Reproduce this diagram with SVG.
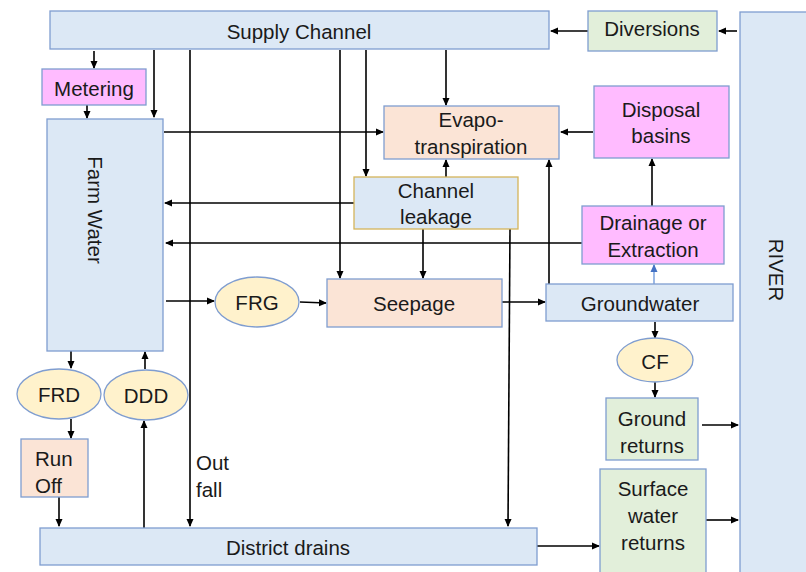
<svg xmlns="http://www.w3.org/2000/svg" width="806" height="572" viewBox="0 0 806 572">
<defs>
<marker id="ah" markerWidth="8" markerHeight="8" refX="7" refY="4" orient="auto" markerUnits="userSpaceOnUse">
<path d="M0,0.5 L8,4 L0,7.5 Z" fill="#000"/>
</marker>
<marker id="ahb" markerWidth="8" markerHeight="8" refX="7" refY="4" orient="auto" markerUnits="userSpaceOnUse">
<path d="M0,0.5 L8,4 L0,7.5 Z" fill="#4472c4"/>
</marker>
<style>
.blue{fill:#dce8f5;stroke:#7f9dd0;stroke-width:1.3}
.peach{fill:#fbe4d6;stroke:#7f9dd0;stroke-width:1.3}
.pink{fill:#ffbbff;stroke:#7f9dd0;stroke-width:1.3}
.green{fill:#e2efda;stroke:#7f9dd0;stroke-width:1.3}
.oval{fill:#fff2cc;stroke:#7f9dd0;stroke-width:1.3}
.gold{fill:#dce8f5;stroke:#d4b45a;stroke-width:1.3}
text{font-family:"Liberation Sans",Arial,sans-serif;font-size:20.5px;fill:#1a1a1a;text-anchor:middle;dominant-baseline:central}
.c line,.c path{stroke:#000;stroke-width:1.6;fill:none;marker-end:url(#ah)}
</style>
</defs>
<rect width="806" height="572" fill="#fff"/>
<g class="c" id="connectors">
<line x1="737" y1="31" x2="719" y2="31"/>
<line x1="588" y1="31" x2="551" y2="31"/>
<line x1="94" y1="51" x2="94" y2="68"/>
<line x1="87" y1="105" x2="87" y2="118"/>
<line x1="154" y1="50" x2="154" y2="117"/>
<line x1="190" y1="50" x2="190" y2="526"/>
<line x1="340" y1="50" x2="340" y2="278"/>
<line x1="366" y1="50" x2="366" y2="176"/>
<line x1="446" y1="50" x2="446" y2="105"/>
<line x1="164" y1="132" x2="383" y2="132"/>
<line x1="593" y1="132" x2="561" y2="132"/>
<line x1="446" y1="177" x2="446" y2="160"/>
<line x1="354" y1="203" x2="165" y2="203"/>
<line x1="582" y1="243" x2="166" y2="243"/>
<line x1="652" y1="206" x2="652" y2="159"/>
<line x1="549" y1="284" x2="549" y2="160"/>
<line x1="423" y1="229" x2="423" y2="278"/>
<line x1="510" y1="229" x2="508" y2="526"/>
<line x1="502" y1="302" x2="545" y2="302"/>
<line x1="166" y1="301" x2="214" y2="301"/>
<line x1="300" y1="302" x2="326" y2="303"/>
<line x1="71" y1="351" x2="71" y2="368"/>
<line x1="145" y1="369" x2="145" y2="352"/>
<line x1="71" y1="419" x2="71" y2="438"/>
<line x1="59" y1="497" x2="59" y2="526"/>
<line x1="144" y1="528" x2="144" y2="421"/>
<line x1="537" y1="546" x2="599" y2="546"/>
<line x1="655" y1="322" x2="655" y2="338"/>
<line x1="655" y1="382" x2="655" y2="397"/>
<line x1="702" y1="425" x2="738" y2="425"/>
<line x1="706" y1="520" x2="738" y2="520"/>
<line x1="654" y1="284" x2="654" y2="265" style="stroke:#5b8bd6;stroke-width:1.2;marker-end:url(#ahb)"/>
</g>
<g id="supply"><rect class="blue" x="50" y="11" width="499" height="38"/><text x="299" y="31">Supply Channel</text></g>
<g id="diversions"><rect class="green" x="588" y="11" width="129" height="40"/><text x="652" y="28">Diversions</text></g>
<g id="river"><rect class="blue" x="740" y="12" width="70" height="564"/><text transform="translate(776,270) rotate(90)">RIVER</text></g>
<g id="metering"><rect class="pink" x="42" y="69" width="104" height="36"/><text x="94" y="88">Metering</text></g>
<g id="farm"><rect class="blue" x="47" y="119" width="116" height="232"/><text transform="translate(95,210) rotate(90)">Farm Water</text></g>
<g id="evapo"><rect class="peach" x="384" y="106" width="175" height="53"/><text x="471" y="119">Evapo-</text><text x="471" y="146">transpiration</text></g>
<g id="disposal"><rect class="pink" x="594" y="86" width="135" height="72"/><text x="661" y="109">Disposal</text><text x="661" y="135">basins</text></g>
<g id="leakage"><rect class="gold" x="354" y="177" width="164" height="52"/><text x="436" y="190">Channel</text><text x="436" y="216">leakage</text></g>
<g id="drainage"><rect class="pink" x="582" y="206" width="142" height="58"/><text x="653" y="222">Drainage or</text><text x="653" y="249">Extraction</text></g>
<g id="groundwater"><rect class="blue" x="546" y="284" width="187" height="37"/><text x="640" y="303">Groundwater</text></g>
<g id="seepage"><rect class="peach" x="327" y="279" width="175" height="48"/><text x="414" y="303">Seepage</text></g>
<g id="frg"><ellipse class="oval" cx="257" cy="302" rx="42" ry="25"/><text x="257" y="302">FRG</text></g>
<g id="frd"><ellipse class="oval" cx="59" cy="394" rx="42" ry="25"/><text x="59" y="394">FRD</text></g>
<g id="ddd"><ellipse class="oval" cx="146" cy="395" rx="42" ry="25"/><text x="146" y="395">DDD</text></g>
<g id="runoff"><rect class="peach" x="21" y="439" width="67" height="58"/><text x="35" y="458" style="text-anchor:start">Run</text><text x="35" y="485" style="text-anchor:start">Off</text></g>
<g id="outfall-label"><text x="196" y="462" style="text-anchor:start">Out</text><text x="196" y="489" style="text-anchor:start">fall</text></g>
<g id="district"><rect class="blue" x="40" y="528" width="497" height="37"/><text x="288" y="547">District drains</text></g>
<g id="cf"><ellipse class="oval" cx="655" cy="360" rx="38" ry="22"/><text x="655" y="361">CF</text></g>
<g id="groundreturns"><rect class="green" x="606" y="398" width="92" height="62"/><text x="652" y="418">Ground</text><text x="652" y="445">returns</text></g>
<g id="surface"><rect class="green" x="600" y="469" width="106" height="108"/><text x="653" y="488">Surface</text><text x="653" y="515">water</text><text x="653" y="542">returns</text></g>
</svg>
